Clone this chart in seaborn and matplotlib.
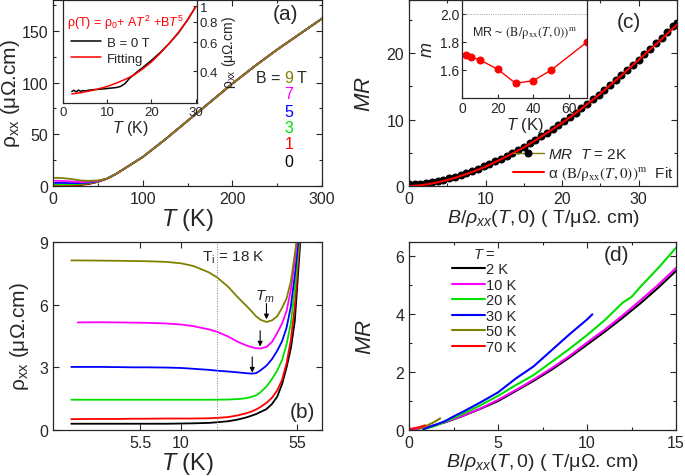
import matplotlib
matplotlib.use("Agg")
import matplotlib.pyplot as plt
import seaborn as sns
from matplotlib.ticker import MultipleLocator, FixedLocator, NullLocator, FixedFormatter

sns.set_style("ticks")
plt.rcParams['font.family'] = ['Liberation Sans', 'DejaVu Sans']
plt.rcParams['mathtext.fontset'] = 'custom'
plt.rcParams['mathtext.rm'] = 'Liberation Sans'
plt.rcParams['mathtext.it'] = 'Liberation Sans:italic'
plt.rcParams['mathtext.bf'] = 'Liberation Sans:bold'
plt.rcParams['xtick.direction'] = 'in'
plt.rcParams['ytick.direction'] = 'in'
plt.rcParams['axes.linewidth'] = 0.9

# ---- panel (a): rho_xx(T) at several fields ----
fields = ['0', '1', '3', '5', '7', '9']
field_colors = ['black', 'red', '#00e000', 'blue', 'magenta', 'olive']

T_a_low = [2, 10, 20, 30, 40, 50]
rho_a_0T = [0.3, 0.3, 0.45, 1.0, 2.0, 4.0]
rho_a_1T = [0.55, 0.55, 0.65, 1.2, 2.2, 4.1]
rho_a_3T = [1.45, 1.45, 1.5, 2.0, 2.8, 4.3]
rho_a_5T = [3.0, 2.95, 2.8, 2.8, 3.4, 4.6]
rho_a_7T = [5.0, 4.9, 4.4, 3.9, 4.0, 4.8]
rho_a_9T = [7.8, 7.7, 6.8, 5.4, 5.0, 5.4]
T_a_high = [60, 70, 80, 90, 100, 125, 150, 175, 200, 225, 250, 275, 300]
rho_a_high = [7.0, 11.5, 17.0, 22.5, 28, 45, 63, 81, 99, 116, 132, 147, 162]

# inset (a): zero field low-T data and fit
T_ins_a = [2, 2.5, 3, 3.5, 4, 4.5, 5, 6, 7, 8, 9, 10, 11, 12, 13, 14, 15, 16,
           17, 18, 20, 22, 24, 26, 28, 30]
rho_ins_a = [0.300, 0.305, 0.298, 0.306, 0.300, 0.304, 0.302, 0.306, 0.308, 0.309,
             0.311, 0.313, 0.315, 0.317, 0.322, 0.335, 0.360, 0.380,
             0.400, 0.420, 0.465, 0.520, 0.590, 0.680, 0.810, 0.990]
T_fit_a = [2, 4, 6, 8, 10, 12, 14, 16, 18, 20, 22, 24, 26, 28, 30]
rho_fit_a = [0.290, 0.295, 0.302, 0.311, 0.322, 0.337, 0.355, 0.378, 0.412,
             0.455, 0.515, 0.590, 0.685, 0.810, 0.990]

# ---- panel (b): low-T rho_xx, log T axis ----
T_b = [2, 3, 4, 5, 6, 8, 10, 12, 15, 17, 20, 23, 26, 28, 30, 32, 35, 38, 41,
       44, 47, 50, 53, 56, 60]
T_b_7T = [2.2] + T_b[1:]
rho_b_0T = [0.30, 0.30, 0.30, 0.30, 0.30, 0.30, 0.31, 0.32, 0.34, 0.37, 0.42,
            0.50, 0.60, 0.68, 0.76, 0.86, 1.00, 1.25, 1.60, 2.20, 3.00, 3.90,
            5.20, 7.80, 11.0]
rho_b_1T = [0.52, 0.53, 0.53, 0.54, 0.54, 0.55, 0.55, 0.55, 0.56, 0.58, 0.62,
            0.70, 0.80, 0.88, 0.98, 1.10, 1.30, 1.55, 1.90, 2.40, 3.20, 4.30,
            5.90, 8.30, 11.0]
rho_b_3T = [1.45, 1.45, 1.45, 1.45, 1.45, 1.45, 1.45, 1.45, 1.45, 1.45, 1.46,
            1.48, 1.52, 1.58, 1.66, 1.80, 2.08, 2.45, 2.85, 3.35, 4.10, 5.10,
            6.70, 8.70, 11.0]
rho_b_5T = [3.02, 3.02, 3.01, 3.00, 3.00, 2.99, 2.97, 2.93, 2.88, 2.84, 2.80,
            2.76, 2.72, 2.70, 2.72, 2.85, 3.08, 3.40, 3.80, 4.25, 4.90, 5.90,
            7.40, 9.10, 11.5]
rho_b_7T = [5.15, 5.16, 5.15, 5.14, 5.13, 5.10, 5.05, 4.97, 4.82, 4.70, 4.47,
            4.22, 4.05, 3.97, 3.92, 3.90, 3.98, 4.22, 4.65, 5.10, 5.70, 6.70,
            8.10, 9.60, 11.5]
rho_b_9T = [8.12, 8.11, 8.10, 8.09, 8.08, 8.05, 7.98, 7.85, 7.55, 7.30, 6.85,
            6.35, 5.95, 5.70, 5.45, 5.28, 5.17, 5.25, 5.45, 5.85, 6.30, 7.10,
            8.40, 9.80, 12.0]
b_ticks = [5.5, 10, 55]

# ---- panel (c): MR vs Kohler variable at 2 K ----
x_c = [0, 0.75, 1.5, 2.25, 3.0, 3.75, 4.5, 5.25, 6.0, 6.75, 7.5, 8.25, 9.0,
       9.75, 10.5, 11.25, 12.0, 12.75, 13.5, 14.25, 15.0, 15.75, 16.5, 17.25,
       18.0, 18.75, 19.5, 20.25, 21.0, 21.75, 22.5, 23.25, 24.0, 24.75, 25.5,
       26.25, 27.0, 27.75, 28.5, 29.25, 30.0, 30.75, 31.5, 32.25, 33.0, 33.75,
       34.5, 35.0]
mr_c = [0.25, 0.28, 0.36, 0.47, 0.61, 0.77, 0.97, 1.19, 1.43, 1.69, 1.98, 2.29,
        2.62, 2.96, 3.33, 3.72, 4.13, 4.55, 5.00, 5.46, 5.94, 6.44, 6.96, 7.49,
        8.04, 8.60, 9.19, 9.79, 10.41, 11.04, 11.68, 12.35, 13.03, 13.72, 14.43,
        15.15, 15.90, 16.64, 17.42, 18.21, 19.00, 19.82, 20.65, 21.48, 22.35,
        23.23, 24.10, 24.60]
x_fit_c = [0, 1, 2, 3, 4, 6, 8, 10, 12.5, 15, 17.5, 20, 22.5, 25, 27.5, 30, 32.5, 35]
mr_fit_c = [0, 0.06, 0.19, 0.38, 0.61, 1.22, 2.0, 2.91, 4.3, 5.8, 7.6, 9.5,
            11.6, 13.9, 16.4, 19.0, 21.6, 24.3]

# inset (c): exponent m vs T
T_m = [2, 5, 10, 20, 30, 40, 50, 70]
m_vals = [1.705, 1.695, 1.672, 1.605, 1.505, 1.524, 1.600, 1.800]

# ---- panel (d): Kohler plot at several temperatures ----
temps_d = ['2 K', '10 K', '20 K', '30 K', '50 K', '70 K']
temp_colors = ['black', 'magenta', '#00e000', 'blue', 'olive', 'red']
x_d_2K = [0, 1, 2, 3, 4, 5, 6, 7, 8, 9, 10, 11, 12, 13, 14, 15]
mr_d_2K = [0.02, 0.09, 0.26, 0.48, 0.73, 1.0, 1.35, 1.70, 2.08, 2.50, 2.95,
           3.40, 3.88, 4.38, 4.92, 5.50]
x_d_10K = [0, 1, 2, 3, 4, 5, 6, 7, 8, 9, 10, 11, 12, 13, 14, 15]
mr_d_10K = [0.02, 0.09, 0.27, 0.49, 0.74, 1.04, 1.38, 1.74, 2.13, 2.55, 3.02,
            3.47, 3.96, 4.48, 5.02, 5.60]
x_d_20K = [0.8, 1.5, 2, 3, 4, 5, 6, 7, 8, 9, 10, 11, 12, 12.5, 13, 14, 15]
mr_d_20K = [0.02, 0.15, 0.28, 0.55, 0.85, 1.18, 1.55, 1.90, 2.35, 2.80, 3.28,
            3.80, 4.40, 4.60, 4.95, 5.60, 6.30]
x_d_30K = [0.8, 1.5, 2, 2.6, 3, 4, 5, 6, 7, 8, 9, 10, 10.3]
mr_d_30K = [0.03, 0.18, 0.30, 0.50, 0.62, 0.95, 1.30, 1.78, 2.20, 2.75, 3.30,
            3.82, 4.00]
x_d_50K = [0.6, 1.0, 1.4, 1.75]
mr_d_50K = [0.05, 0.15, 0.27, 0.40]
x_d_70K = [0, 0.3, 0.6, 0.9]
mr_d_70K = [0.03, 0.06, 0.10, 0.16]

W, H = 685, 477


def px_axes(fig, left, top, right, bottom):
    """Add axes from pixel box of the reference image."""
    return fig.add_axes([left / W, (H - bottom) / H, (right - left) / W, (bottom - top) / H])


def frame_ticks(ax, labelsize=11.5):
    ax.tick_params(which='both', direction='in', top=True, right=True,
                   labelsize=labelsize, width=0.8)
    ax.tick_params(which='major', length=4)
    ax.tick_params(which='minor', length=2.5)


fig = plt.figure(figsize=(6.85, 4.77), dpi=100)

# ===== (a) =====
ax_a = px_axes(fig, 53, 1, 322, 187)
rho_a_sets = [rho_a_0T, rho_a_1T, rho_a_3T, rho_a_5T, rho_a_7T, rho_a_9T]
for rho, col in zip(rho_a_sets, field_colors):
    sns.lineplot(x=T_a_low + T_a_high, y=rho + rho_a_high, color=col, lw=1.3, ax=ax_a)
ax_a.set_xlim(0, 300)
ax_a.set_ylim(0, 180)
ax_a.xaxis.set_major_locator(MultipleLocator(100))
ax_a.xaxis.set_minor_locator(MultipleLocator(50))
ax_a.yaxis.set_major_locator(MultipleLocator(50))
ax_a.yaxis.set_minor_locator(MultipleLocator(25))
frame_ticks(ax_a)
ax_a.set_xlabel(r'$T$ (K)', fontsize=17, labelpad=0)
ax_a.set_ylabel(r'ρ$_{\mathrm{xx}}$ (μΩ.cm)', fontsize=15, labelpad=0)
ax_a.text(0.866, 0.925, '(a)', transform=ax_a.transAxes, fontsize=15, ha='center', va='center')
label_y = [0.134, 0.226, 0.317, 0.403, 0.495, 0.586]
for lab, col, yy in zip(fields, field_colors, label_y):
    ax_a.text(0.877, yy, lab, color=col, transform=ax_a.transAxes, fontsize=11.5,
              ha='center', va='center')
ax_a.text(0.846, label_y[-1], 'B =', transform=ax_a.transAxes, fontsize=11.5, ha='right', va='center')
ax_a.text(0.904, label_y[-1], 'T', transform=ax_a.transAxes, fontsize=11.5, ha='left', va='center')

# inset (a)
ax_ia = px_axes(fig, 63, 1, 197, 104)
sns.lineplot(x=T_ins_a, y=rho_ins_a, color='black', lw=1.1, ax=ax_ia, label='B = 0 T')
sns.lineplot(x=T_fit_a, y=rho_fit_a, color='red', lw=1.1, ax=ax_ia, label='Fitting')
ax_ia.set_yscale('log')
ax_ia.set_xlim(0, 30.3)
ax_ia.set_ylim(0.255, 1.09)
ax_ia.yaxis.set_major_locator(FixedLocator([0.4, 0.6, 0.8, 1.0]))
ax_ia.yaxis.set_major_formatter(FixedFormatter(['0.4', '0.6', '0.8', '1']))
ax_ia.yaxis.set_minor_locator(NullLocator())
ax_ia.xaxis.set_major_locator(MultipleLocator(10))
ax_ia.yaxis.tick_right()
ax_ia.yaxis.set_label_position('right')
ax_ia.tick_params(direction='in', labelsize=9.5, length=3, width=0.8, pad=2,
                  left=False, right=True, top=False)
ax_ia.set_xlabel(r'$T$ (K)', fontsize=11.5, labelpad=0)
ax_ia.set_ylabel(r'ρ$_{\mathrm{xx}}$ (μΩ.cm)', fontsize=10, labelpad=1)
ax_ia.text(0.03, 0.79, r'ρ(T) = ρ$_0$+ A$T^2$ +B$T^5$', color='red', fontsize=9,
           transform=ax_ia.transAxes, ha='left', va='center')
ax_ia.legend(loc='upper left', bbox_to_anchor=(0.0, 0.72), frameon=False, fontsize=9.5,
             handlelength=2.3, handletextpad=0.4, borderaxespad=0.2, labelspacing=0.25)

# ===== (b) =====
ax_b = px_axes(fig, 53, 243, 322, 431)
rho_b_sets = [rho_b_0T, rho_b_1T, rho_b_3T, rho_b_5T, rho_b_7T, rho_b_9T]
T_b_sets = [T_b, T_b, T_b, T_b, T_b_7T, T_b]
for tt, rho, col in zip(T_b_sets, rho_b_sets, field_colors):
    sns.lineplot(x=tt, y=rho, color=col, lw=1.3, ax=ax_b)
ax_b.set_xscale('log')
ax_b.set_xlim(1.53, 79)
ax_b.set_ylim(0, 9)
ax_b.xaxis.set_major_locator(FixedLocator(b_ticks))
ax_b.xaxis.set_major_formatter(FixedFormatter([str(t) for t in b_ticks]))
ax_b.xaxis.set_minor_locator(NullLocator())
ax_b.yaxis.set_major_locator(MultipleLocator(3))
frame_ticks(ax_b)
ax_b.axvline(17, color='grey', lw=0.7, ls=':')
ax_b.set_xlabel(r'$T$ (K)', fontsize=17, labelpad=0)
ax_b.set_ylabel(r'ρ$_{\mathrm{xx}}$ (μΩ.cm)', fontsize=15, labelpad=6)
ax_b.text(0.555, 0.92, r'T$_{\mathrm{i}}$ = 18 K', transform=ax_b.transAxes, fontsize=11,
          ha='left', va='center')
ax_b.text(0.788, 0.713, r'$T_m$', transform=ax_b.transAxes, fontsize=11, ha='center', va='center')
ax_b.text(0.929, 0.096, '(b)', transform=ax_b.transAxes, fontsize=15, ha='center', va='center')
for xa, y0, y1 in [(35, 6.05, 5.3), (31.9, 4.75, 4.0), (28.4, 3.5, 2.75)]:
    ax_b.annotate('', xy=(xa, y1), xytext=(xa, y0),
                  arrowprops=dict(arrowstyle='-|>', color='black', lw=0.8,
                                  mutation_scale=7, shrinkA=0, shrinkB=0))

# ===== (c) =====
ax_c = px_axes(fig, 409, 1, 677, 187)
sns.lineplot(x=x_c, y=mr_c, color='olive', lw=1.0, marker='o', markersize=5,
             markerfacecolor='black', markeredgecolor='black', ax=ax_c,
             label=r'$MR$  $T$ = 2K')
sns.lineplot(x=x_fit_c, y=mr_fit_c, color='red', lw=1.5, ax=ax_c,
             label=r'α $\mathrm{(B/\rho_{xx}(}\mathit{T}\mathrm{,0))}^{\mathrm{m}}$  Fit')
ax_c.set_xlim(0, 35)
ax_c.set_ylim(0, 28)
ax_c.xaxis.set_major_locator(MultipleLocator(10))
ax_c.xaxis.set_minor_locator(MultipleLocator(5))
ax_c.yaxis.set_major_locator(MultipleLocator(10))
ax_c.yaxis.set_minor_locator(MultipleLocator(5))
frame_ticks(ax_c)
ax_c.set_xlabel(r'$B/\rho_{xx}(T,0)$ ( T/μΩ. cm)', fontsize=14, labelpad=1)
ax_c.set_ylabel(r'$MR$', fontsize=16, labelpad=8)
ax_c.text(0.822, 0.887, '(c)', transform=ax_c.transAxes, fontsize=15, ha='center', va='center')
leg_c = ax_c.legend(loc='lower right', bbox_to_anchor=(1.02, -0.03), frameon=False, fontsize=11,
                    handlelength=2.0, handletextpad=0.25, labelspacing=0.2, borderaxespad=0.2)
leg_c.get_texts()[1].set_math_fontfamily('stix')

# inset (c)
ax_ic = px_axes(fig, 462, 1, 587, 99)
sns.lineplot(x=[-5, 75], y=[2.0, 2.0], color='grey', lw=0.6, ls=':', ax=ax_ic)
sns.lineplot(x=T_m, y=m_vals, color='red', lw=1.0, marker='o', markersize=5,
             markeredgecolor='red', markerfacecolor='red', ax=ax_ic)
ax_ic.set_xlim(0, 70)
ax_ic.set_ylim(1.40, 2.1)
ax_ic.xaxis.set_major_locator(MultipleLocator(20))
ax_ic.yaxis.set_major_locator(FixedLocator([1.6, 1.8, 2.0]))
ax_ic.yaxis.set_major_formatter(FixedFormatter(['1.6', '1.8', '2.0']))
ax_ic.tick_params(direction='in', labelsize=10, length=3, width=0.8, pad=2, top=False, right=False)
ax_ic.set_xlabel(r'$T$ (K)', fontsize=12, labelpad=0)
ax_ic.set_ylabel(r'$m$', fontsize=13, labelpad=3)
ax_ic.text(0.5, 0.67, r'MR ~ $\mathrm{(B/\rho_{xx}(}\mathit{T}\mathrm{,0))}^{\mathrm{m}}$',
           math_fontfamily='stix', transform=ax_ic.transAxes, fontsize=9, ha='center', va='center')

# ===== (d) =====
ax_d = px_axes(fig, 409, 243, 676, 431)
x_d_sets = [x_d_2K, x_d_10K, x_d_20K, x_d_30K, x_d_50K, x_d_70K]
mr_d_sets = [mr_d_2K, mr_d_10K, mr_d_20K, mr_d_30K, mr_d_50K, mr_d_70K]
for xx, yy, col, lab in zip(x_d_sets, mr_d_sets, temp_colors, temps_d):
    sns.lineplot(x=xx, y=yy, color=col, lw=1.5, ax=ax_d, label=lab)
ax_d.set_xlim(0, 15)
ax_d.set_ylim(0, 6.5)
ax_d.xaxis.set_major_locator(MultipleLocator(5))
ax_d.xaxis.set_minor_locator(MultipleLocator(2.5))
ax_d.yaxis.set_major_locator(MultipleLocator(2))
ax_d.yaxis.set_minor_locator(MultipleLocator(1))
frame_ticks(ax_d)
ax_d.set_xlabel(r'$B/\rho_{xx}(T,0)$ ( T/μΩ. cm)', fontsize=14, labelpad=1)
ax_d.set_ylabel(r'$MR$', fontsize=16, labelpad=14)
ax_d.text(0.777, 0.936, '(d)', transform=ax_d.transAxes, fontsize=15, ha='center', va='center')
ax_d.legend(title=r'$T$ =', loc='upper left', bbox_to_anchor=(0.13, 1.02), frameon=False,
            fontsize=10.5, title_fontsize=10.5, handlelength=2.2, handletextpad=0.1,
            labelspacing=0.1, borderaxespad=0.2)

fig.savefig('out.png', dpi=100)
